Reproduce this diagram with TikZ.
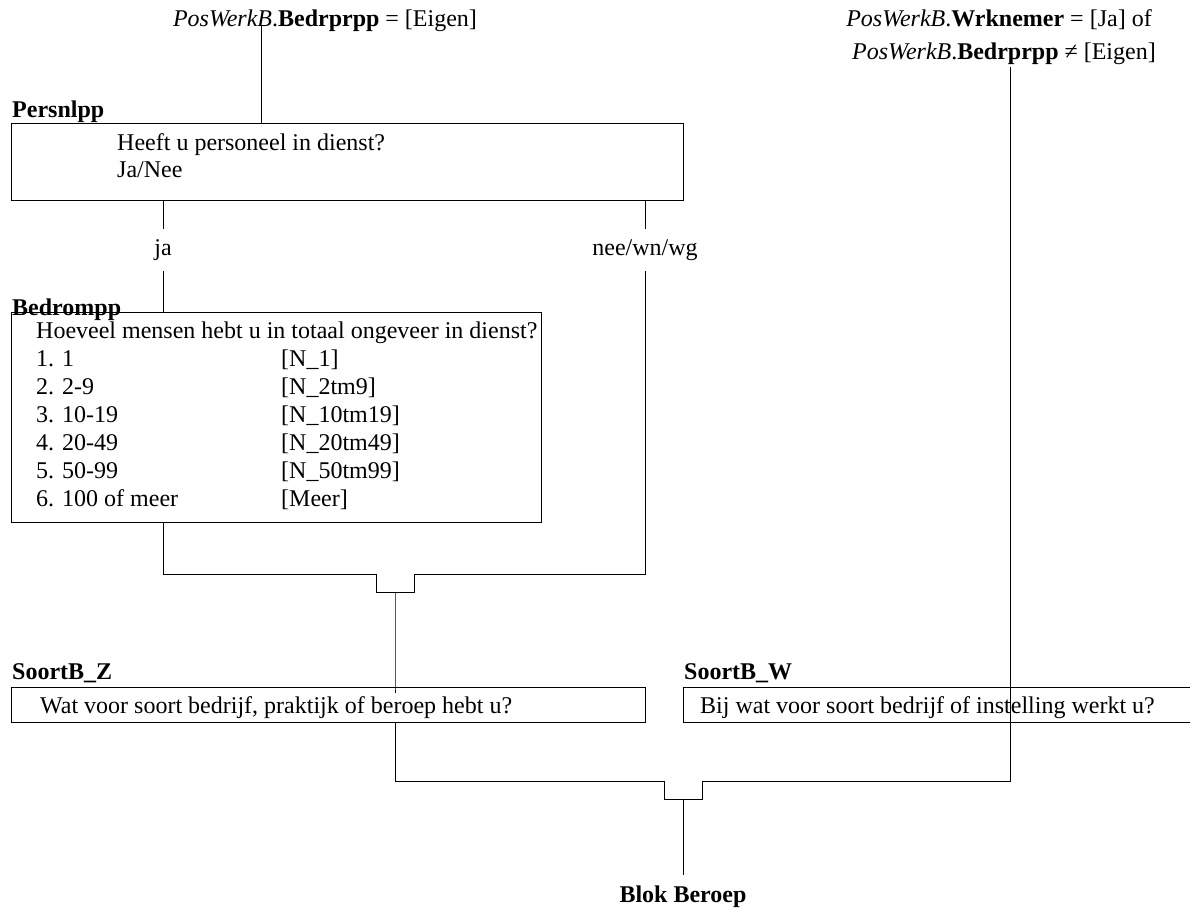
\documentclass[tikz,border=0pt]{standalone}
\usepackage{fontspec}
\setmainfont{Liberation Serif}
\usetikzlibrary{positioning}
\newcommand\qsize{\fontsize{24}{28}\selectfont}

\tikzset{
	qbox/.style={draw, line width=1pt, inner sep=0pt, anchor=north west},
	qlabel/.style={font=\qsize\bfseries, anchor=base west, inner sep=0pt},
	qtext/.style={anchor=base west, inner sep=0pt},
	branch/.style={minimum height=41pt, inner sep=0pt},
	conn/.style={line width=1pt},
}

\begin{document}
\begin{tikzpicture}[x=1pt, y=-1pt, font=\qsize]
		%%%%% START %%%%%
		\useasboundingbox (0,0) rectangle (1190,910);
		
		% conditions on top
		\node[anchor=base, inner sep=3pt] (condz) at (325,27) {\textit{PosWerkB}.\textbf{Bedrprpp} = [Eigen]};
		\node[anchor=base, inner sep=3pt] (condw1) at (999,27) {\textit{PosWerkB}.\textbf{Wrknemer} = [Ja] of};
		\node[anchor=base, inner sep=3pt] (condw2) at (1004,59) {\textit{PosWerkB}.\textbf{Bedrprpp} ≠ [Eigen]};
		\coordinate (tz) at (261,26);
		\coordinate (tw) at (1010,67);
		
		% Persnlpp
		\node[qlabel] (persnlpplbl) at (12,117) {Persnlpp};
		\node[qbox, minimum width=672pt, minimum height=77pt] (persnlpp) at (11,123) {};
		\node[qtext, font=\fontsize{24}{27}\selectfont] (persnlpptxt) at (117,150) {\begin{tabular}[t]{@{}l@{}}Heeft u personeel in dienst?\\Ja/Nee\end{tabular}};
		
		\node[branch] (ja) at (163,250) {ja};
		\node[branch] (nee) at (645,250) {nee/wn/wg};
		
		% Bedrompp
		\node[qbox, minimum width=530pt, minimum height=210pt] (bedrompp) at (11,312) {};
		\node[qlabel] (bedrompplbl) at (12,315) {Bedrompp};
		\node[qtext] (bedrompptxt) at (36,338) {\begin{tabular}[t]{@{}p{245pt}@{}l@{}}
			\multicolumn{2}{@{}l@{}}{Hoeveel mensen hebt u in totaal ongeveer in dienst?}\\
			1. 1 & [N\_1]\\
			2. 2-9 & [N\_2tm9]\\
			3. 10-19 & [N\_10tm19]\\
			4. 20-49 & [N\_20tm49]\\
			5. 50-99 & [N\_50tm99]\\
			6. 100 of meer & [Meer]
		\end{tabular}};
		
		% SoortB
		\node[qlabel] (soortzlbl) at (12,679) {SoortB\_Z};
		\node[qbox, minimum width=634pt, minimum height=35pt] (soortz) at (11,687) {};
		\node[qtext] (soortztxt) at (40,713) {Wat voor soort bedrijf, praktijk of beroep hebt u?};
		
		\node[qlabel] (soortwlbl) at (684,679) {SoortB\_W};
		\node[qbox, minimum width=530pt, minimum height=35pt] (soortw) at (683,687) {};
		\node[qtext] (soortwtxt) at (700,713) {Bij wat voor soort bedrijf of instelling werkt u?};
		
		\node[qlabel, anchor=base] (blok) at (683,902) {Blok Beroep};
		
		\coordinate (m1) at (395,592);
		\coordinate (m2) at (683,799);
		
		% connectors
		\draw[conn] (tz) -- (tz |- persnlpp.north);
		\draw[conn] (ja |- persnlpp.south) -- (ja.north);
		\draw[conn] (nee |- persnlpp.south) -- (nee.north);
		\draw[conn] (ja.south) -- (ja |- bedrompp.north);
		
		\draw[conn] (ja |- bedrompp.south) |- ([xshift=-19pt,yshift=18pt]m1) -- ([xshift=-19pt]m1)
			-- ([xshift=19pt]m1) -- ([xshift=19pt,yshift=18pt]m1) -| (nee.south);
		\draw[conn] (m1) -- (m1 |- soortz.north) -- ++(0,6);
		
		\draw[conn] (m1 |- soortz.south) |- ([xshift=-19pt,yshift=18pt]m2) -- ([xshift=-19pt]m2)
			-- ([xshift=19pt]m2) -- ([xshift=19pt,yshift=18pt]m2) -| (tw);
		\draw[conn] (m2) -- ([yshift=10pt]blok.north);
		
		%%%%% END %%%%%
\end{tikzpicture}
\end{document}
